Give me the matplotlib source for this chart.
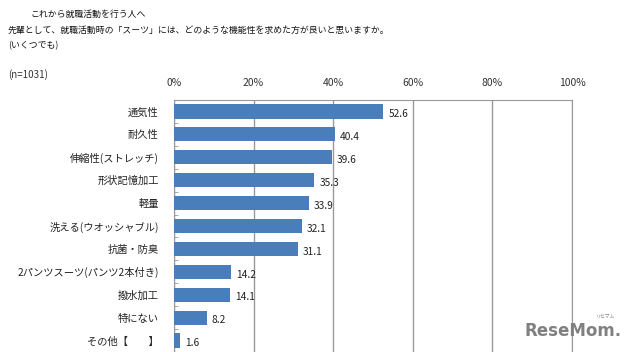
import numpy as np
import matplotlib
matplotlib.use('Agg')
import matplotlib.pyplot as plt

plt.rcParams['font.family'] = ['Noto Sans CJK JP', 'DejaVu Sans']
plt.rcParams['font.size'] = 8

categories = ['通気性', '耐久性', '伸縮性(ストレッチ)', '形状記憶加工', '軽量',
              '洗える(ウオッシャブル)', '抗菌・防臭', '2パンツスーツ(パンツ2本付き)',
              '撥水加工', '特にない', 'その他【　　】']
values = [52.6, 40.4, 39.6, 35.3, 33.9, 32.1, 31.1, 14.2, 14.1, 8.2, 1.6]
xticks = [0, 20, 40, 60, 80, 100]

fig = plt.figure(figsize=(6.34, 3.52), dpi=100)
fig.patch.set_facecolor('white')
ax = fig.add_axes([174/634, 0.0, 398/634, 1 - 100/352])

y = np.arange(len(categories))
ax.barh(y, values, height=0.62, color='#4a7ebb', zorder=3)
for yi, v in zip(y, values):
    ax.text(v + 1.3, yi + 0.12, f'{v:.1f}', va='center', ha='left', fontsize=7.3, color='#222222')

ax.set_xlim(0, 100)
ax.set_ylim(len(categories) - 0.5, -0.5)
ax.xaxis.tick_top()
ax.set_xticks(xticks)
ax.set_xticklabels([f'{t}%' for t in xticks], fontsize=7.5, color='#333333')
ax.tick_params(axis='x', length=0, pad=9)
ax.set_yticks(y)
ax.set_yticklabels(categories, fontsize=7.4, color='#222222')
ax.tick_params(axis='y', length=0, pad=11)
ax.set_yticks(np.arange(len(categories) + 1) - 0.5, minor=True)
ax.tick_params(axis='y', which='minor', direction='in', length=3, color='#999999')

ax.grid(axis='x', color='#999999', lw=1, zorder=0)
for s in ['left', 'top', 'right']:
    ax.spines[s].set_color('#999999')
ax.spines['bottom'].set_visible(False)

fig.text(30/634, 1 - 14/352, 'これから就職活動を行う人へ', fontsize=6.4, va='center', color='#111111')
fig.text(8/634, 1 - 30/352, '先輩として、就職活動時の「スーツ」には、どのような機能性を求めた方が良いと思いますか。',
         fontsize=6.4, va='center', color='#111111')
fig.text(8/634, 1 - 46/352, '(いくつでも)', fontsize=6.4, va='center', color='#111111')
fig.text(8/634, 1 - 75/352, '(n=1031)', fontsize=7, va='center', color='#333333')

fig.text(524/634, 1 - 331/352, 'ReseMom.', fontsize=12, fontweight='bold', color='#808080',
         va='center', ha='left', family=['DejaVu Sans'])
fig.text(606/634, 1 - 316/352, 'リセマム', fontsize=3.5, color='#808080', va='center', ha='center')

fig.savefig('out.png', dpi=100)
